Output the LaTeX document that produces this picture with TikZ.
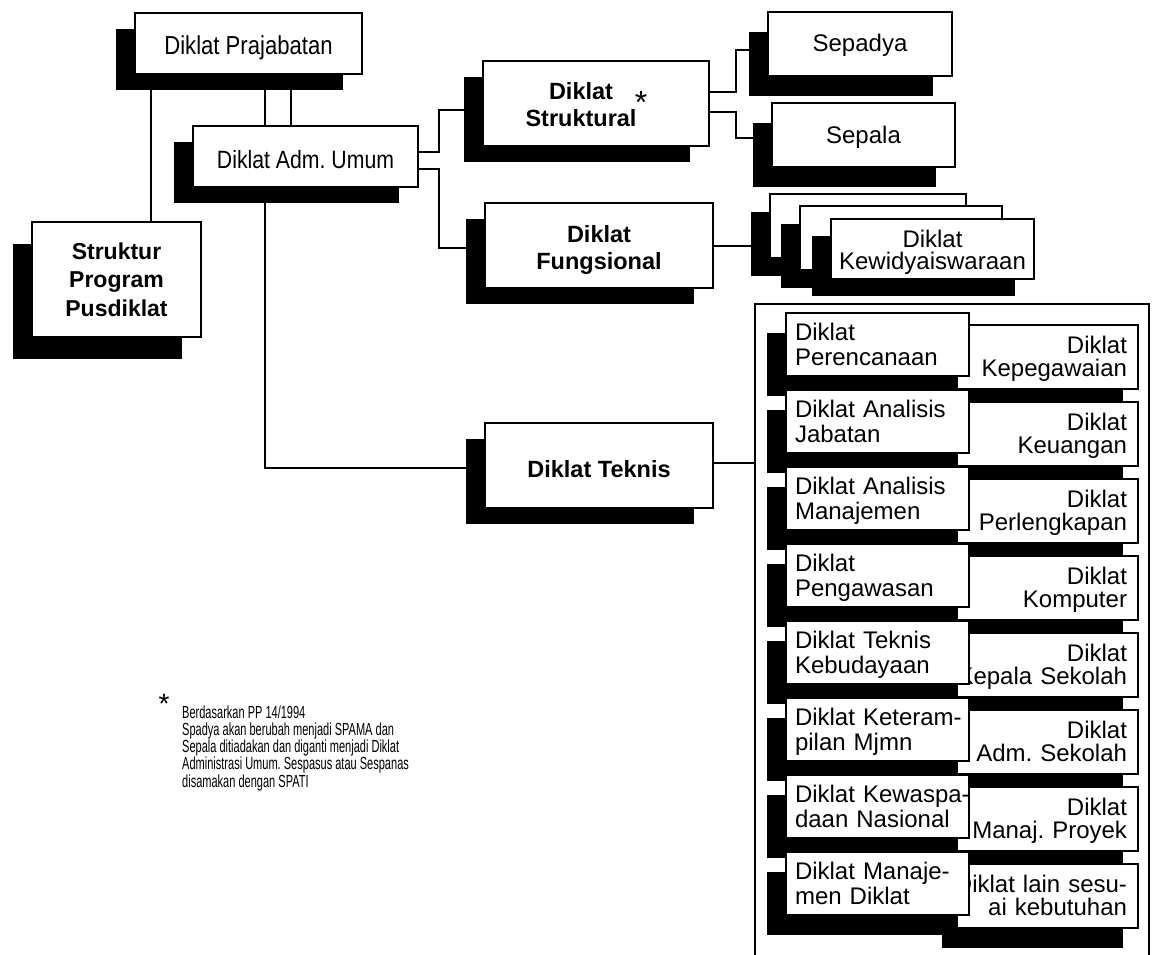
\documentclass[tikz,border=0pt]{standalone}
\usepackage{fontspec}
\setmainfont{Liberation Sans}
\newfontfamily\narrowsf[FakeStretch=0.85]{Liberation Sans}
\newfontfamily\notesf[FakeStretch=0.63]{Liberation Sans}
\usetikzlibrary{shadows}
\frenchspacing
\newcommand{\vstr}[1]{\rule{0pt}{#1pt}}
\newcommand{\dstr}{\rule[-6pt]{0pt}{6pt}}
\newcommand{\lline}[1]{\makebox[165pt][l]{#1}}
\newcommand{\rline}[1]{\makebox[159pt][r]{#1}}

\begin{document}
\begin{tikzpicture}[x=1pt, y=-1pt,
  box/.style={draw, line width=2pt, fill=white, inner sep=0pt,
    general shadow={fill=black, shadow xshift=-19pt, shadow yshift=-#1}},
  box/.default=16pt,
  bigbox/.style={box, minimum width=227pt, minimum height=85pt, align=center,
    font=\bfseries\fontsize{23.5}{27}\selectfont},
  tleft/.style={box=20pt, minimum width=183pt, minimum height=63pt, text width=165pt,
    inner xsep=9pt, align=left, font=\fontsize{24}{25}\selectfont},
  tright/.style={draw, line width=2pt, fill=white, inner sep=0pt,
    general shadow={fill=black, shadow xshift=-15pt, shadow yshift=-20pt},
    minimum width=181pt, minimum height=64pt, text width=159pt, inner xsep=11pt,
    align=left, font=\fontsize{24}{23}\selectfont},
  conn/.style={line width=2pt}]
\path[use as bounding box, fill=white] (0,0) rectangle (1154,955);

\node[box, minimum width=227pt, minimum height=61pt, text height=28pt, text depth=5pt,
  font=\narrowsf\fontsize{26}{26}\selectfont] (praj) at (248.5,43.5) {Diklat Prajabatan};
\node[box, minimum width=225pt, minimum height=61pt, text height=28pt, text depth=5pt,
  font=\narrowsf\fontsize{25}{25}\selectfont] (adm) at (305.5,156.5) {Diklat Adm. Umum};
\node[box=22pt, minimum width=169pt, minimum height=115pt, align=center,
  font=\bfseries\fontsize{23}{28.5}\selectfont] (spp) at (116.5,279.5)
  {\vstr{22}Struktur\\Program\\Pusdiklat\dstr};

\node[bigbox, minimum width=226pt] (strukt) at (596,103.5)
  {\vstr{26}Diklat\hspace*{30pt}\\Struktural\hspace*{30pt}\dstr};
\node[font=\fontsize{32}{32}\selectfont, inner sep=0pt] (strstar) at (641,102.5) {*};
\node[bigbox, minimum width=228pt] (fungs) at (599,245.5)
  {\vstr{26}Diklat\\Fungsional\dstr};
\node[bigbox, minimum width=228pt, text height=28pt, text depth=5pt] (teknis) at (599,465.5)
  {Diklat Teknis};

\node[box=20pt, minimum width=184pt, minimum height=64pt, text height=21pt, text depth=5pt,
  font=\fontsize{24}{24}\selectfont] (sepadya) at (860,44) {Sepadya};
\node[box=20pt, minimum width=183pt, minimum height=64pt, text height=21pt, text depth=5pt,
  font=\fontsize{24}{24}\selectfont] (sepala) at (863.5,135) {Sepala};

\node[box=18pt, minimum width=196pt, minimum height=64pt] (fung1) at (868,226) {};
\node[box=18pt, minimum width=202pt, minimum height=64pt] (fung2) at (901,238) {};
\node[box=17pt, minimum width=203pt, minimum height=60pt, align=center,
  font=\fontsize{24}{22}\selectfont] (fung3) at (932.5,249)
  {\vstr{24}Diklat\\Kewidyaiswaraan\dstr};

\node[draw, line width=1.3pt, minimum width=394pt, minimum height=658pt, inner sep=0pt]
  (tekframe) at (952,633) {};
\foreach \la/\lb/\ra/\rb [count=\i from 0] in {
  Diklat/Perencanaan/Diklat/Kepegawaian,
  Diklat Analisis/Jabatan/Diklat/Keuangan,
  Diklat Analisis/Manajemen/Diklat/Perlengkapan,
  Diklat/Pengawasan/Diklat/Komputer,
  Diklat Teknis/Kebudayaan/Diklat/Kepala Sekolah,
  Diklat Keteram-/pilan Mjmn/Diklat/Adm. Sekolah,
  Diklat Kewaspa-/daan Nasional/Diklat/Manaj. Proyek,
  Diklat Manaje-/men Diklat/Diklat lain sesu-/ai kebutuhan}{
  \pgfmathsetmacro{\rowy}{313+77*\i}
  \node[tright] (r\i) at (1047.5,\rowy+44) {\vstr{21}\rline{\ra}\\\rline{\rb}\dstr};
  \node[tleft] (l\i) at (877.5,\rowy+31.5) {\vstr{22}\lline{\la}\\\lline{\lb}\dstr};
}

\node[font=\fontsize{28}{28}\selectfont, inner sep=0pt] (notestar) at (164,704) {*};
\node[anchor=north west, align=left, inner sep=0pt,
  font=\notesf\fontsize{17.5}{16.2}\selectfont] (note) at (182,706)
  {Berdasarkan PP 14/1994\\
   Spadya akan berubah menjadi SPAMA dan\\
   Sepala ditiadakan dan diganti menjadi Diklat\\
   Administrasi Umum. Sespasus atau Sespanas\\
   disamakan dengan SPATI};

\draw[conn] ([xshift=34.5pt]spp.north) -- ([xshift=34.5pt]spp.north |- praj.south);
\draw[conn] ([xshift=-40.5pt]adm.north) -- ([xshift=-40.5pt]adm.north |- praj.south);
\draw[conn] ([xshift=-14.5pt]adm.north) -- ([xshift=-14.5pt]adm.north |- praj.south);
\draw[conn] ([xshift=-40.5pt]adm.south) |- ([yshift=-2pt]teknis.west);
\draw[conn] ([yshift=4.5pt]adm.east) -- ++(20,0) |- ([yshift=-6.5pt]strukt.west);
\draw[conn] ([yshift=-12.5pt]adm.east) -- ++(20,0) |- ([yshift=-2.5pt]fungs.west);
\draw[conn] ([yshift=11.5pt]strukt.east) -- ++(26,0) |- ([yshift=-6pt]sepadya.west);
\draw[conn] ([yshift=-8.5pt]strukt.east) -- ++(26,0) |- ([yshift=-3pt]sepala.west);
\draw[conn] (fungs.east) -- (fungs.east -| fung1.west);
\draw[conn] ([yshift=2.5pt]teknis.east) -- ([yshift=2.5pt]teknis.east -| tekframe.west);
\end{tikzpicture}
\end{document}
